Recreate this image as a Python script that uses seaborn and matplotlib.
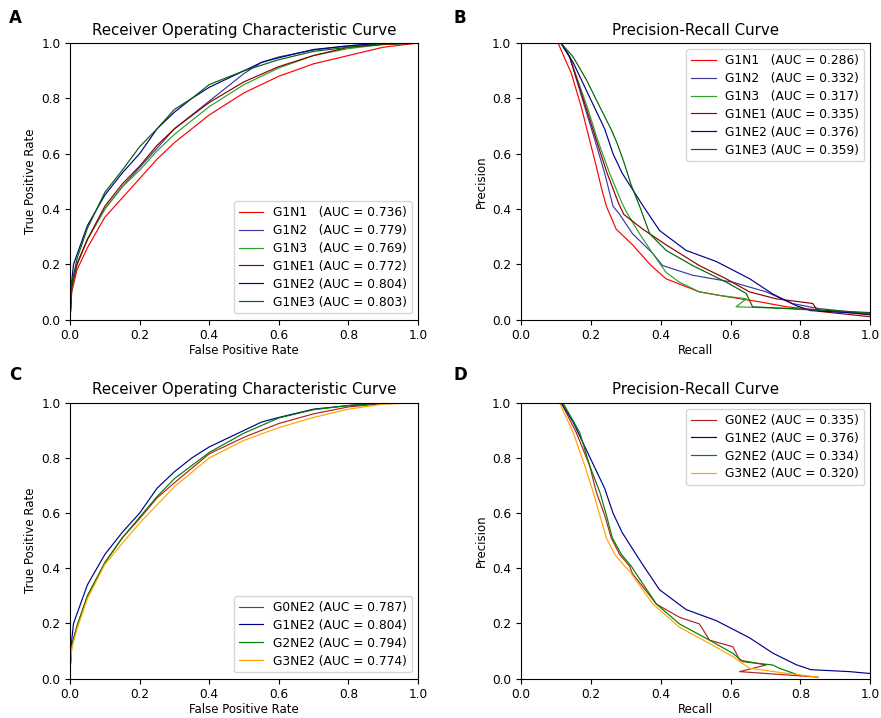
import numpy as np
import pandas as pd
import matplotlib
matplotlib.use("Agg")
import matplotlib.pyplot as plt
import seaborn as sns

# ---- ROC data (FPR, TPR) ----
roc_g1n1_x = [0.0, 0.005, 0.02, 0.05, 0.1, 0.15, 0.2, 0.25, 0.3, 0.35, 0.4, 0.5, 0.6, 0.7, 0.8, 0.9, 1.0]
roc_g1n1_y = [0.0, 0.10, 0.18, 0.26, 0.37, 0.44, 0.51, 0.58, 0.64, 0.69, 0.74, 0.82, 0.88, 0.925, 0.955, 0.985, 1.0]

roc_g1n2_x = [0.0, 0.005, 0.02, 0.05, 0.1, 0.15, 0.2, 0.25, 0.3, 0.4, 0.5, 0.55, 0.6, 0.7, 0.8, 0.9, 1.0]
roc_g1n2_y = [0.0, 0.12, 0.20, 0.29, 0.40, 0.48, 0.55, 0.62, 0.69, 0.79, 0.89, 0.93, 0.95, 0.975, 0.99, 1.0, 1.0]

roc_g1n3_x = [0.0, 0.005, 0.02, 0.05, 0.1, 0.15, 0.2, 0.25, 0.3, 0.4, 0.5, 0.6, 0.7, 0.8, 0.9, 1.0]
roc_g1n3_y = [0.0, 0.12, 0.20, 0.29, 0.40, 0.48, 0.54, 0.61, 0.67, 0.77, 0.85, 0.91, 0.955, 0.98, 0.995, 1.0]

roc_g1ne1_x = [0.0, 0.005, 0.02, 0.05, 0.1, 0.15, 0.2, 0.25, 0.3, 0.4, 0.5, 0.6, 0.7, 0.8, 0.9, 1.0]
roc_g1ne1_y = [0.0, 0.12, 0.20, 0.29, 0.41, 0.49, 0.555, 0.63, 0.69, 0.785, 0.86, 0.915, 0.955, 0.985, 0.995, 1.0]

roc_g1ne2_x = [0.0, 0.005, 0.01, 0.02, 0.05, 0.1, 0.15, 0.2, 0.25, 0.3, 0.35, 0.4, 0.5, 0.55, 0.6, 0.7, 0.8, 0.9, 1.0]
roc_g1ne2_y = [0.03, 0.14, 0.20, 0.235, 0.34, 0.45, 0.53, 0.60, 0.69, 0.75, 0.80, 0.84, 0.90, 0.93, 0.947, 0.977, 0.99, 1.0, 1.0]

roc_g1ne3_x = [0.0, 0.005, 0.02, 0.05, 0.1, 0.15, 0.2, 0.25, 0.3, 0.35, 0.4, 0.5, 0.6, 0.7, 0.8, 0.9, 1.0]
roc_g1ne3_y = [0.0, 0.13, 0.22, 0.33, 0.46, 0.54, 0.625, 0.69, 0.76, 0.80, 0.85, 0.90, 0.94, 0.97, 0.985, 0.997, 1.0]

roc_g0ne2_x = [0.0, 0.005, 0.02, 0.05, 0.1, 0.15, 0.2, 0.25, 0.3, 0.4, 0.5, 0.6, 0.7, 0.8, 0.9, 1.0]
roc_g0ne2_y = [0.03, 0.12, 0.19, 0.30, 0.42, 0.51, 0.58, 0.655, 0.71, 0.815, 0.875, 0.925, 0.96, 0.985, 0.997, 1.0]

roc_g2ne2_x = [0.0, 0.005, 0.02, 0.05, 0.1, 0.15, 0.2, 0.25, 0.3, 0.4, 0.5, 0.6, 0.7, 0.8, 0.9, 1.0]
roc_g2ne2_y = [0.03, 0.12, 0.19, 0.30, 0.42, 0.51, 0.585, 0.66, 0.725, 0.82, 0.89, 0.945, 0.975, 0.99, 1.0, 1.0]

roc_g3ne2_x = [0.0, 0.005, 0.02, 0.05, 0.1, 0.15, 0.2, 0.25, 0.3, 0.4, 0.5, 0.6, 0.7, 0.8, 0.9, 1.0]
roc_g3ne2_y = [0.03, 0.11, 0.18, 0.29, 0.414, 0.49, 0.564, 0.63, 0.696, 0.80, 0.864, 0.91, 0.947, 0.977, 0.995, 1.0]

# ---- PR data (recall, precision) ----
pr_g1n1_x = [0.107, 0.145, 0.173, 0.197, 0.216, 0.232, 0.245, 0.273, 0.32, 0.373, 0.416, 0.511, 0.588, 0.683, 0.76, 0.85, 1.0]
pr_g1n1_y = [1.0, 0.89, 0.77, 0.65, 0.555, 0.47, 0.41, 0.327, 0.27, 0.195, 0.147, 0.10, 0.083, 0.064, 0.046, 0.035, 0.017]

pr_g1n2_x = [0.115, 0.14, 0.183, 0.212, 0.24, 0.264, 0.283, 0.32, 0.377, 0.406, 0.492, 0.606, 0.702, 0.776, 0.85, 1.0]
pr_g1n2_y = [1.0, 0.95, 0.77, 0.65, 0.53, 0.41, 0.38, 0.31, 0.24, 0.195, 0.16, 0.135, 0.10, 0.058, 0.04, 0.02]

pr_g1n3_x = [0.115, 0.14, 0.19, 0.22, 0.254, 0.29, 0.302, 0.34, 0.377, 0.416, 0.454, 0.511, 0.569, 0.645, 0.616, 0.76, 1.0]
pr_g1n3_y = [1.0, 0.95, 0.77, 0.65, 0.53, 0.42, 0.39, 0.31, 0.24, 0.17, 0.135, 0.10, 0.087, 0.075, 0.046, 0.04, 0.02]

pr_g1ne1_x = [0.115, 0.14, 0.186, 0.216, 0.247, 0.28, 0.295, 0.349, 0.416, 0.511, 0.588, 0.654, 0.73, 0.835, 0.85, 1.0]
pr_g1ne1_y = [1.0, 0.95, 0.77, 0.65, 0.53, 0.42, 0.38, 0.327, 0.27, 0.195, 0.147, 0.10, 0.075, 0.058, 0.03, 0.01]

pr_g1ne2_x = [0.116, 0.15, 0.18, 0.21, 0.24, 0.264, 0.29, 0.32, 0.352, 0.397, 0.473, 0.559, 0.654, 0.721, 0.788, 0.83, 0.94, 1.0]
pr_g1ne2_y = [1.0, 0.93, 0.85, 0.77, 0.69, 0.60, 0.53, 0.47, 0.407, 0.322, 0.25, 0.21, 0.148, 0.092, 0.05, 0.032, 0.025, 0.018]

pr_g1ne3_x = [0.115, 0.15, 0.188, 0.23, 0.259, 0.275, 0.295, 0.315, 0.34, 0.369, 0.416, 0.492, 0.588, 0.645, 0.663, 0.76, 1.0]
pr_g1ne3_y = [1.0, 0.95, 0.867, 0.76, 0.687, 0.64, 0.57, 0.49, 0.41, 0.31, 0.25, 0.195, 0.135, 0.094, 0.046, 0.04, 0.025]

pr_g0ne2_x = [0.116, 0.159, 0.197, 0.216, 0.24, 0.259, 0.283, 0.311, 0.32, 0.388, 0.454, 0.511, 0.54, 0.607, 0.626, 0.702, 0.626, 0.85]
pr_g0ne2_y = [1.0, 0.892, 0.773, 0.677, 0.593, 0.51, 0.45, 0.408, 0.38, 0.27, 0.222, 0.198, 0.139, 0.115, 0.067, 0.049, 0.025, 0.005]

pr_g2ne2_x = [0.121, 0.169, 0.197, 0.226, 0.245, 0.262, 0.288, 0.316, 0.325, 0.388, 0.454, 0.54, 0.607, 0.635, 0.721, 0.74, 0.8]
pr_g2ne2_y = [1.0, 0.892, 0.773, 0.677, 0.593, 0.51, 0.45, 0.408, 0.39, 0.27, 0.198, 0.139, 0.091, 0.061, 0.049, 0.037, 0.01]

pr_g3ne2_x = [0.111, 0.15, 0.183, 0.207, 0.226, 0.245, 0.269, 0.297, 0.311, 0.378, 0.454, 0.54, 0.607, 0.654, 0.76, 0.85]
pr_g3ne2_y = [1.0, 0.892, 0.773, 0.677, 0.593, 0.51, 0.45, 0.408, 0.39, 0.27, 0.186, 0.127, 0.079, 0.037, 0.019, 0.005]

auc_roc_top = [0.736, 0.779, 0.769, 0.772, 0.804, 0.803]
auc_pr_top = [0.286, 0.332, 0.317, 0.335, 0.376, 0.359]
auc_roc_bot = [0.787, 0.804, 0.794, 0.774]
auc_pr_bot = [0.335, 0.376, 0.334, 0.320]

names_top = ["G1N1  ", "G1N2  ", "G1N3  ", "G1NE1", "G1NE2", "G1NE3"]
names_bot = ["G0NE2", "G1NE2", "G2NE2", "G3NE2"]
colors_top = ["red", "#3a3aa0", "#2ca02c", "darkred", "darkblue", "darkgreen"]
colors_bot = ["#b22222", "darkblue", "green", "orange"]

roc_top = [(roc_g1n1_x, roc_g1n1_y), (roc_g1n2_x, roc_g1n2_y), (roc_g1n3_x, roc_g1n3_y),
           (roc_g1ne1_x, roc_g1ne1_y), (roc_g1ne2_x, roc_g1ne2_y), (roc_g1ne3_x, roc_g1ne3_y)]
pr_top = [(pr_g1n1_x, pr_g1n1_y), (pr_g1n2_x, pr_g1n2_y), (pr_g1n3_x, pr_g1n3_y),
          (pr_g1ne1_x, pr_g1ne1_y), (pr_g1ne2_x, pr_g1ne2_y), (pr_g1ne3_x, pr_g1ne3_y)]
roc_bot = [(roc_g0ne2_x, roc_g0ne2_y), (roc_g1ne2_x, roc_g1ne2_y),
           (roc_g2ne2_x, roc_g2ne2_y), (roc_g3ne2_x, roc_g3ne2_y)]
pr_bot = [(pr_g0ne2_x, pr_g0ne2_y), (pr_g1ne2_x, pr_g1ne2_y),
          (pr_g2ne2_x, pr_g2ne2_y), (pr_g3ne2_x, pr_g3ne2_y)]


def draw(ax, curves, names, aucs, colors, title, xlabel, ylabel, loc):
    for (x, y), name, auc, c in zip(curves, names, aucs, colors):
        df = pd.DataFrame({"x": x, "y": y})
        sns.lineplot(data=df, x="x", y="y", ax=ax, color=c, linewidth=0.85,
                     sort=False, estimator=None,
                     label=f"{name} (AUC = {auc:.3f})")
    ax.set_xlim(0, 1)
    ax.set_ylim(0, 1)
    ax.set_title(title, fontsize=10.8)
    ax.set_xlabel(xlabel, fontsize=8.5, labelpad=1)
    ax.set_ylabel(ylabel, fontsize=8.5, labelpad=3)
    ax.tick_params(labelsize=8.7, length=3.5)
    ax.legend(loc=loc, fontsize=8.8, handlelength=2.0, labelspacing=0.4, frameon=True)


fig = plt.figure(figsize=(8.81, 7.18), dpi=100)
axA = fig.add_axes([0.0795, 0.555, 0.395, 0.385])
axB = fig.add_axes([0.591, 0.555, 0.397, 0.385])
axC = fig.add_axes([0.0795, 0.055, 0.395, 0.384])
axD = fig.add_axes([0.591, 0.055, 0.397, 0.384])

draw(axA, roc_top, names_top, auc_roc_top, colors_top,
     "Receiver Operating Characteristic Curve", "False Positive Rate", "True Positive Rate", "lower right")
draw(axB, pr_top, names_top, auc_pr_top, colors_top,
     "Precision-Recall Curve", "Recall", "Precision", "upper right")
draw(axC, roc_bot, names_bot, auc_roc_bot, colors_bot,
     "Receiver Operating Characteristic Curve", "False Positive Rate", "True Positive Rate", "lower right")
draw(axD, pr_bot, names_bot, auc_pr_bot, colors_bot,
     "Precision-Recall Curve", "Recall", "Precision", "upper right")

for lab, x, y in [("A", 0.010, 0.975), ("B", 0.515, 0.975), ("C", 0.010, 0.478), ("D", 0.515, 0.478)]:
    fig.text(x, y, lab, fontsize=12, fontweight="bold", ha="left", va="center")

fig.savefig("out.png", dpi=100)
